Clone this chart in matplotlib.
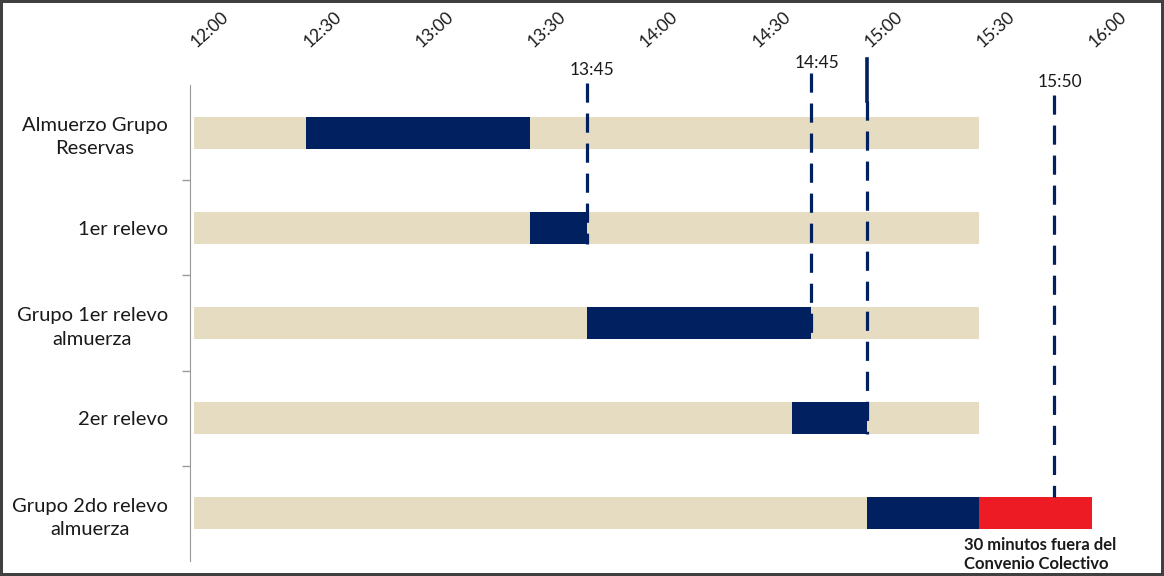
import matplotlib.pyplot as plt

# turnos de almuerzo, horas en formato HH:MM
groups = ['Almuerzo Grupo\nReservas', '1er relevo', 'Grupo 1er relevo\nalmuerza',
          '2er relevo', 'Grupo 2do relevo\nalmuerza']
shift_start = ['12:00', '12:00', '12:00', '12:00', '12:00']
shift_end = ['15:30', '15:30', '15:30', '15:30', '15:30']
lunch_start = ['12:30', '13:30', '13:45', '14:40', '15:00']
lunch_end = ['13:30', '13:45', '14:45', '15:00', '15:30']
extra_row = 4
extra_start = '15:30'
extra_end = '16:00'
extra_text = '30 minutos fuera del\nConvenio Colectivo'

tick_labels = ['12:00', '12:30', '13:00', '13:30', '14:00', '14:30', '15:00', '15:30', '16:00']
mark_times = ['13:45', '14:45', '15:00', '15:50']
mark_text = ['13:45', '14:45', '', '15:50']

BEIGE = '#E6DCC1'
NAVY = '#002060'
RED = '#ED1C24'


def mins(t):
    h, m = t.split(':')
    return (int(h) - 12) * 60 + int(m)


plt.rcParams['font.family'] = ['Lato', 'DejaVu Sans']

fig = plt.figure(figsize=(11.64, 5.76), dpi=100)
fig.patch.set_edgecolor('#404040')
fig.patch.set_linewidth(3)
ax = fig.add_axes([190 / 1164, 15 / 576, 939 / 1164, 476 / 576])

h = 0.336
for i in range(len(groups)):
    s = mins(shift_start[i])
    ax.barh(i, mins(shift_end[i]) - s, left=s, height=h, color=BEIGE, zorder=1)
    s = mins(lunch_start[i])
    ax.barh(i, mins(lunch_end[i]) - s, left=s, height=h, color=NAVY, zorder=2)

s = mins(extra_start)
ax.barh(extra_row, mins(extra_end) - s, left=s, height=h, color=RED, zorder=2)
ax.text(s - 4, extra_row + h / 2 + 0.08, extra_text, ha='left', va='top',
        fontsize=12, fontweight='bold', color='#1a1a1a', linespacing=1.2,
        clip_on=False)

# lineas de corte con su hora
line_top = [-0.521, -0.626, -0.773, -0.395]
line_end = [1 + h / 2, 2 + h / 2, 3 + h / 2, 4 - h / 2]
text_y = [-0.66, -0.735, None, -0.53]
for t, lab, y0, y1, ty in zip(mark_times, mark_text, line_top, line_end, text_y):
    x = mins(t)
    if lab:
        ax.plot([x, x], [y0, y1], color=NAVY, lw=2.3, ls=(0, (6, 3.4)),
                zorder=3, clip_on=False, solid_capstyle='butt')
        ax.text(x + 1.5, ty, lab, ha='center', va='center', fontsize=12.5,
                color='#1a1a1a', clip_on=False)
    else:
        ax.plot([x, x], [y0, -0.33], color=NAVY, lw=2.6, zorder=3, clip_on=False)
        ax.plot([x, x], [-0.33, y1], color=NAVY, lw=2.3, ls=(0, (6, 3.4)),
                zorder=3, clip_on=False)

ax.set_xlim(-1, 250)
ax.set_ylim(4.5, -0.5)

ax.xaxis.tick_top()
ax.set_xticks([mins(t) for t in tick_labels])
ax.set_xticklabels(tick_labels, rotation=42, ha='left', va='center',
                   rotation_mode='anchor', fontsize=12.5, color='#1a1a1a')
ax.tick_params(axis='x', length=0, pad=29)

ax.set_yticks(range(len(groups)))
ax.set_yticklabels(groups, fontsize=14.5, color='#1a1a1a', multialignment='center',
                   linespacing=1.45)
ax.set_yticks([0.5, 1.5, 2.5, 3.5], minor=True)
ax.tick_params(axis='y', which='major', length=0, pad=16)
ax.tick_params(axis='y', which='minor', length=6, color='#999999', width=1)

for side in ['top', 'right', 'bottom']:
    ax.spines[side].set_visible(False)
ax.spines['left'].set_color('#999999')

fig.savefig('out.png', dpi=100)
